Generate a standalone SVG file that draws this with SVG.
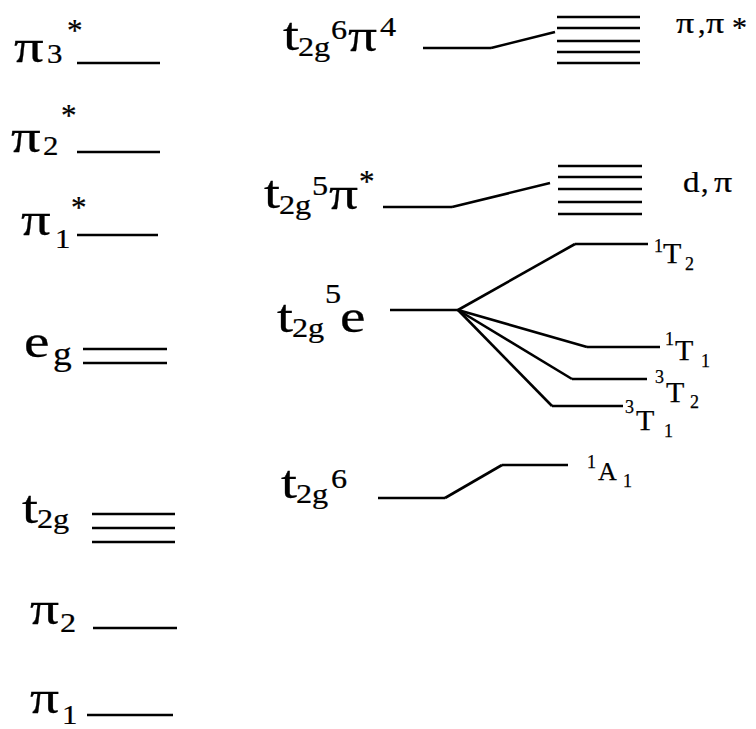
<svg xmlns="http://www.w3.org/2000/svg" width="756" height="729" viewBox="0 0 756 729">
<style>
.lv{stroke:#000;stroke-width:2.6;fill:none;stroke-linecap:butt}
.t{font-family:"Liberation Serif","Times New Roman",serif;fill:#000;stroke:#000;stroke-width:0.25}
.m{font-size:46px}
.s{font-size:28px}
.st{font-size:31px}
.sr{font-size:30px}
.ss{font-size:18px}
</style>
<rect width="756" height="729" fill="#fff"/>
<!-- left column -->
<g id="pi3star">
<text class="t m" transform="translate(14,62) scale(1.28,1)">π</text>
<text class="t s" transform="translate(47,63) scale(1.1,1)">3</text>
<text class="t st" transform="translate(67,41)">*</text>
<line class="lv" x1="77" y1="63" x2="160" y2="63"/>
</g>
<g id="pi2star">
<text class="t m" transform="translate(11,152) scale(1.28,1)">π</text>
<text class="t s" transform="translate(43,155) scale(1.1,1)">2</text>
<text class="t st" transform="translate(61,126)">*</text>
<line class="lv" x1="77" y1="152" x2="160" y2="152"/>
</g>
<g id="pi1star">
<text class="t m" transform="translate(21,235) scale(1.28,1)">π</text>
<text class="t s" transform="translate(55,248) scale(1.1,1)">1</text>
<text class="t st" transform="translate(71,218)">*</text>
<line class="lv" x1="77" y1="235" x2="158" y2="235"/>
</g>
<g id="eg">
<text class="t m" transform="translate(24,357) scale(1.25,1)">e</text>
<text class="t" style="font-size:34px" transform="translate(53,365) scale(1.1,1)">g</text>
<line class="lv" x1="83" y1="349" x2="167" y2="349"/>
<line class="lv" x1="83" y1="363" x2="167" y2="363"/>
</g>
<g id="t2g">
<text class="t m" transform="translate(22,523) scale(1.25,1)">t</text>
<text class="t s" transform="translate(37,528) scale(1.15,1)">2g</text>
<line class="lv" x1="92" y1="514" x2="175" y2="514"/>
<line class="lv" x1="92" y1="528" x2="175" y2="528"/>
<line class="lv" x1="92" y1="542" x2="175" y2="542"/>
</g>
<g id="pi2">
<text class="t m" transform="translate(30,624) scale(1.25,1)">π</text>
<text class="t s" transform="translate(60,632) scale(1.15,1)">2</text>
<line class="lv" x1="93" y1="628" x2="177" y2="628"/>
</g>
<g id="pi1">
<text class="t m" transform="translate(30,713) scale(1.25,1)">π</text>
<text class="t s" transform="translate(62,724) scale(1.1,1)">1</text>
<line class="lv" x1="87" y1="715" x2="173" y2="715"/>
</g>
<!-- middle configurations -->
<g id="t2g6pi4">
<text class="t m" transform="translate(283,50) scale(1.25,1)">t</text>
<text class="t s" transform="translate(298,56) scale(1.15,1)">2g</text>
<text class="t s" transform="translate(331,39) scale(1.15,1)">6</text>
<text class="t m" transform="translate(348,51) scale(1.25,1)">π</text>
<text class="t s" transform="translate(380,36) scale(1.15,1)">4</text>
<line class="lv" x1="423" y1="48" x2="491" y2="48"/>
</g>
<g id="t2g5pistar">
<text class="t m" transform="translate(264,208) scale(1.25,1)">t</text>
<text class="t s" transform="translate(279,214) scale(1.15,1)">2g</text>
<text class="t s" transform="translate(312,195) scale(1.15,1)">5</text>
<text class="t m" transform="translate(329,209) scale(1.25,1)">π</text>
<text class="t st" transform="translate(359,192)">*</text>
<line class="lv" x1="383" y1="207" x2="452" y2="207"/>
</g>
<g id="t2g5e">
<text class="t m" transform="translate(277,332) scale(1.25,1)">t</text>
<text class="t s" transform="translate(292,337) scale(1.15,1)">2g</text>
<text class="t s" transform="translate(325,303) scale(1.15,1)">5</text>
<text class="t m" transform="translate(340,332) scale(1.25,1)">e</text>
<line class="lv" x1="390" y1="310" x2="458" y2="310"/>
</g>
<g id="t2g6">
<text class="t m" transform="translate(281,498) scale(1.25,1)">t</text>
<text class="t s" transform="translate(296,503) scale(1.15,1)">2g</text>
<text class="t s" transform="translate(331,488) scale(1.15,1)">6</text>
<line class="lv" x1="378" y1="498" x2="445" y2="498"/>
</g>
<!-- right stacks -->
<g id="pipistar-band">
<line class="lv" x1="557" y1="17" x2="640" y2="17"/>
<line class="lv" x1="557" y1="28" x2="640" y2="28"/>
<line class="lv" x1="557" y1="41" x2="640" y2="41"/>
<line class="lv" x1="557" y1="52" x2="640" y2="52"/>
<line class="lv" x1="557" y1="63" x2="640" y2="63"/>
<text class="t sr" transform="translate(676,33) scale(1.2,1)">π</text>
<text class="t sr" transform="translate(698,33)">,</text>
<text class="t sr" transform="translate(706,33) scale(1.2,1)">π</text>
<text class="t sr" transform="translate(732,37)">*</text>
</g>
<g id="dpi-band">
<line class="lv" x1="558" y1="166" x2="642" y2="166"/>
<line class="lv" x1="558" y1="177" x2="642" y2="177"/>
<line class="lv" x1="558" y1="189" x2="642" y2="189"/>
<line class="lv" x1="558" y1="202" x2="642" y2="202"/>
<line class="lv" x1="558" y1="214" x2="642" y2="214"/>
<text class="t sr" transform="translate(683,192) scale(1.1,1)">d</text>
<text class="t sr" transform="translate(701,192)">,</text>
<text class="t sr" transform="translate(714,192) scale(1.2,1)">π</text>
</g>
<g id="state-1T2">
<line class="lv" x1="575" y1="244" x2="648" y2="244"/>
<text class="t ss" x="654" y="252">1</text>
<text class="t sr" x="663" y="263">T</text>
<text class="t ss" x="685" y="270">2</text>
</g>
<g id="state-1T1">
<line class="lv" x1="587" y1="347" x2="660" y2="347"/>
<text class="t ss" x="665" y="345">1</text>
<text class="t sr" x="675" y="360">T</text>
<text class="t ss" x="701" y="367">1</text>
</g>
<g id="state-3T2">
<line class="lv" x1="572" y1="379" x2="647" y2="379"/>
<text class="t ss" x="655" y="383">3</text>
<text class="t sr" x="666" y="402">T</text>
<text class="t ss" x="690" y="408">2</text>
</g>
<g id="state-3T1">
<line class="lv" x1="552" y1="406" x2="623" y2="406"/>
<text class="t ss" x="625" y="413">3</text>
<text class="t sr" x="636" y="430">T</text>
<text class="t ss" x="664" y="437">1</text>
</g>
<g id="state-1A1">
<line class="lv" x1="502" y1="465" x2="568" y2="465"/>
<text class="t ss" x="587" y="468">1</text>
<text class="t" style="font-size:26px" x="598" y="480">A</text>
<text class="t ss" x="623" y="487">1</text>
</g>
<!-- connectors -->
<g id="connectors">
<line class="lv" x1="491" y1="48" x2="555" y2="32"/>
<line class="lv" x1="452" y1="207" x2="550" y2="183"/>
<line class="lv" x1="458" y1="310" x2="575" y2="244"/>
<line class="lv" x1="458" y1="310" x2="587" y2="347"/>
<line class="lv" x1="458" y1="310" x2="572" y2="379"/>
<line class="lv" x1="458" y1="310" x2="552" y2="406"/>
<line class="lv" x1="445" y1="498" x2="502" y2="465"/>
</g>
</svg>
